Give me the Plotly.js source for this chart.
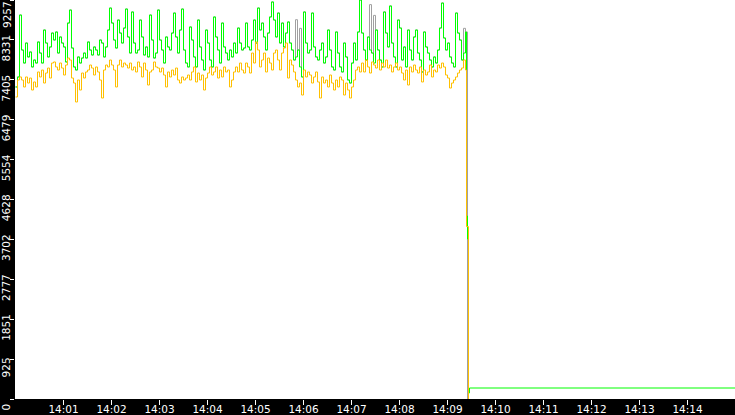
<!DOCTYPE html>
<html>
<head>
<meta charset="utf-8">
<script src="https://cdn.plot.ly/plotly-3.0.1.min.js"></script>
<style>
  html, body { margin: 0; padding: 0; background: #000; }
  #chart { width: 735px; height: 415px; }
</style>
</head>
<body>
<div id="chart"></div>
<script>
// samples every 2.5 s from 14:00:00 until the drop at ~14:09:23
const green = [
  7239, 7471, 8909, 8097, 7795, 8259, 7935, 8051, 7703, 7865, 7795, 8283, 8027, 7795, 8561, 8259, 7935, 8167, 8491, 8329,
  8515, 8027, 8399, 8259, 8167, 7819, 8723, 9025, 8143, 7703, 7633, 7935, 7795, 7911, 8027, 7911, 8283, 8097, 7981, 8167,
  8097, 7981, 8329, 8259, 7935, 8167, 8561, 9071, 8723, 8329, 8143, 8793, 8491, 8259, 8607, 9048, 8399,
  8027, 8979, 8259, 8027, 8097, 8793, 8399, 7981, 8167, 7935, 8909, 8329, 7911, 8027, 9025, 8329, 8097, 7795, 8399, 8167,
  8097, 8491, 8955, 8399, 8027, 8561, 9048, 8097, 7795, 7703, 8631, 8329, 7935, 7703, 8793, 8167, 7865, 7633, 8561, 8259,
  7865, 7703, 8863, 8399, 8097, 7795, 8723, 8167, 8027, 7865, 8097, 7935, 8259, 8027, 8607, 8259, 8097, 8143,
  8723, 8167, 8097, 8329, 8793, 8259, 9071, 8561, 8723, 8399, 8097, 8491, 8863, 9211, 8793, 8399, 8955, 8259, 8723, 8167,
  8491, 8747, 8259, 8097, 7865, 7935, 8097, 7703, 7471, 8979, 8259, 8027, 8097, 8955, 8167, 7935, 7865, 8097, 8259, 7795,
  7935, 8561, 8097, 7703, 7633, 8515, 8027, 7703, 7587, 8259, 7935, 7401, 7331, 7795, 8259, 7865, 8515,
  9257, 8491, 8097, 7865, 8399, 8097, 8027, 7795, 8561, 8097, 7865, 7703, 8979, 8491, 8167, 9118, 8259, 7935, 7703, 8793,
  8607, 7865, 8167, 7703, 8561, 8097, 7865, 8399, 8561, 8027, 7865, 7587, 8515, 8167, 8027, 7865, 7703, 7935, 7795, 8097,
  8607, 9187, 8375, 8097, 8259, 7935, 7795, 7703, 8955, 8491, 8329, 7865, 8027, 8515
];

const gray = [
  7239, 7471, 8909, 8097, 7795, 8259, 7935, 8051, 7703, 7865, 7795, 8283, 8027, 7795, 8561, 8259, 7935, 8167, 8491, 8329,
  8515, 8027, 8399, 8259, 8167, 7819, 8723, 9025, 8143, 7703, 7633, 7935, 7795, 7911, 8027, 7911, 8283, 8097, 7981, 8167,
  8097, 7981, 8329, 8259, 7935, 8167, 8561, 9071, 8723, 8329, 8143, 8793, 8491, 8259, 8607, 9048, 8399,
  8027, 8979, 8259, 8027, 8097, 8793, 8399, 7981, 8167, 7935, 8909, 8329, 7911, 8027, 9025, 8329, 8097, 7795, 8399, 8167,
  8097, 8491, 8955, 8399, 8027, 8561, 9048, 8097, 7795, 7703, 8631, 8329, 7935, 7703, 8793, 8167, 7865, 7633, 8561, 8259,
  7865, 7703, 8863, 8399, 8097, 7795, 8723, 8167, 8027, 7865, 8097, 7935, 8259, 8027, 8607, 8259, 8097, 8143,
  8723, 8167, 8097, 8329, 8793, 8259, 9071, 8561, 8723, 8399, 8097, 8491, 8863, 9211, 8793, 8399, 8955, 8259, 8723, 8167,
  8491, 8747, 8259, 8097, 7865, 8800, 8097, 8600, 7471, 8979, 8259, 8027, 8097, 8955, 8167, 7935, 7865, 8097, 8259, 7795,
  7935, 8561, 8097, 7703, 7633, 8515, 8027, 7703, 7587, 8259, 7935, 7401, 7331, 7795, 8259, 7865, 8515,
  9257, 8491, 8097, 7865, 8399, 9150, 8027, 8900, 8561, 8097, 7865, 7703, 8979, 8491, 8167, 9118, 8259, 7935, 7703, 8793,
  8607, 7865, 8167, 7703, 8561, 8097, 7865, 8399, 8561, 8027, 7865, 7587, 8515, 8167, 8027, 7865, 7703, 7935, 7795, 8097,
  8607, 9187, 8375, 8097, 8259, 7935, 7795, 7703, 8955, 8491, 8329, 7865, 8600, 8515
];

const orange = [
  7007, 7401, 7471, 7401, 7239, 7471, 7331, 7447, 7169, 7355, 7239, 7587, 7471, 7633, 7331, 7563, 7679, 7447, 7795, 7819,
  7703, 7633, 7795, 7679, 7517, 7749, 7911, 7865, 7447, 7331, 6891, 7401, 7169, 7563, 7447, 7587, 7633, 7749, 7679, 7517,
  7703, 7587, 7401, 6983, 7633, 7749, 7703, 7865, 7749, 7633, 7239, 7749, 7865, 7703, 7795, 7749, 7679,
  7795, 7633, 7703, 7587, 7819, 7703, 7471, 7795, 7633, 7285, 7587, 7633, 7819, 7703, 7679, 7587, 7679, 7517, 7239, 7587,
  7471, 7633, 7517, 7679, 7401, 7331, 7471, 7401, 7447, 7517, 7401, 7587, 7703, 7355, 7563, 7401, 7517, 7169, 7447, 7563,
  7703, 7517, 7587, 7703, 7447, 7633, 7471, 7703, 7587, 7633, 7239, 7401, 7587, 7703, 7587, 7795, 7633, 7563,
  7795, 7703, 7563, 8027, 7795, 8283, 8097, 7703, 7865, 8027, 7587, 7911, 7795, 7633, 8027, 8097, 7865, 7633, 8027, 8143,
  8259, 7447, 7865, 7749, 7587, 7401, 7239, 7331, 7053, 7633, 7471, 7587, 7517, 7331, 7471, 7587, 7355, 6983, 7471, 7331,
  7401, 7239, 7517, 7331, 7169, 7401, 7239, 7471, 7401, 7053, 7331, 7169, 6983, 7239, 7401, 7633, 7703,
  7587, 7795, 7587, 7865, 7703, 7563, 7819, 7749, 7679, 7865, 7633, 7795, 7703, 7865, 7679, 7749, 7587, 7703, 7795, 7633,
  7703, 7563, 7401, 7633, 7285, 7703, 7587, 7749, 7633, 7563, 7703, 7355, 7633, 7517, 7587, 7749, 7471, 7633, 7587, 7749,
  7679, 7795, 7703, 7517, 7447, 7215, 7331, 7401, 7471, 7563, 7633, 7679, 7865, 7633
];

// what happens after the drop (seconds after 14:00:00)
const greenTailSec = [563.75, 565.0, 566.25, 567.5, 900];
const greenTail = [4245, 3712, 140, 255, 255];
const orangeTailSec = [563.75, 566.25];
const orangeTail = [4000, 0];
const grayTailSec = [565.0];
const grayTail = [0];

const xTickLabels = ["14:01", "14:02", "14:03", "14:04", "14:05", "14:06", "14:07",
  "14:08", "14:09", "14:10", "14:11", "14:12", "14:13", "14:14"];
const yTickLabels = ["0", "925", "1851", "2777", "3702", "4628", "5554", "6479", "7405", "8331", "9257"];
const yMax = 9257;

const t0 = Date.UTC(2024, 0, 1, 14, 0, 0);
const stepMs = 2500;
const halfPx = 625; // 0.5 px of time, keeps the steps on pixel centres

function times(n) {
  const out = [];
  for (let i = 0; i < n; i++) out.push(t0 + i * stepMs);
  return out;
}

function series(values, tailSec, tailValues, color) {
  return {
    x: times(values.length).concat(tailSec.map((s) => t0 + s * 1000)),
    y: values.concat(tailValues),
    type: "scatter",
    mode: "lines",
    line: { color: color, width: 1, shape: "hv", simplify: false },
    hoverinfo: "skip",
    showlegend: false,
  };
}

const traces = [
  series(gray, grayTailSec, grayTail, "#a0a0a0"),
  series(green, greenTailSec, greenTail, "#00ff00"),
  series(orange, orangeTailSec, orangeTail, "#ffc000"),
];

const tickFont = { family: "DejaVu Sans", size: 10.5, color: "#ffffff" };

const layout = {
  width: 735,
  height: 415,
  margin: { l: 15, r: 0, t: 0, b: 16 },
  paper_bgcolor: "#000000",
  plot_bgcolor: "#ffffff",
  xaxis: {
    type: "date",
    range: [t0 - halfPx, t0 + 15 * 60000 - halfPx],
    tickvals: xTickLabels.map((lab) => t0 + parseInt(lab.slice(3), 10) * 60000),
    ticktext: xTickLabels,
    ticks: "outside",
    ticklen: 5,
    tickcolor: "#ffffff",
    tickfont: tickFont,
    ticklabelstandoff: -5,
    showgrid: false,
    zeroline: false,
    showline: false,
  },
  yaxis: {
    range: [0, yMax],
    tickvals: yTickLabels.map((lab, i) => (i * yMax) / 10),
    // the top label is pushed inside the picture, see annotation below
    ticktext: yTickLabels.map((lab, i) => (i === yTickLabels.length - 1 ? "" : lab)),
    tickangle: -90,
    ticklabelposition: "outside bottom",
    ticklabeloverflow: "allow",
    ticklabelshift: 2,
    ticks: "outside",
    ticklen: 4,
    tickcolor: "#ffffff",
    tickfont: tickFont,
    showgrid: false,
    zeroline: false,
    showline: false,
  },
  annotations: [
    {
      xref: "paper",
      yref: "y",
      x: -8.5 / 720,
      y: yMax,
      xanchor: "center",
      yanchor: "top",
      text: yTickLabels[yTickLabels.length - 1],
      textangle: -90,
      showarrow: false,
      font: tickFont,
      borderpad: 0,
    },
  ],
};

Plotly.newPlot("chart", traces, layout, { displayModeBar: false, staticPlot: true });
</script>
</body>
</html>
